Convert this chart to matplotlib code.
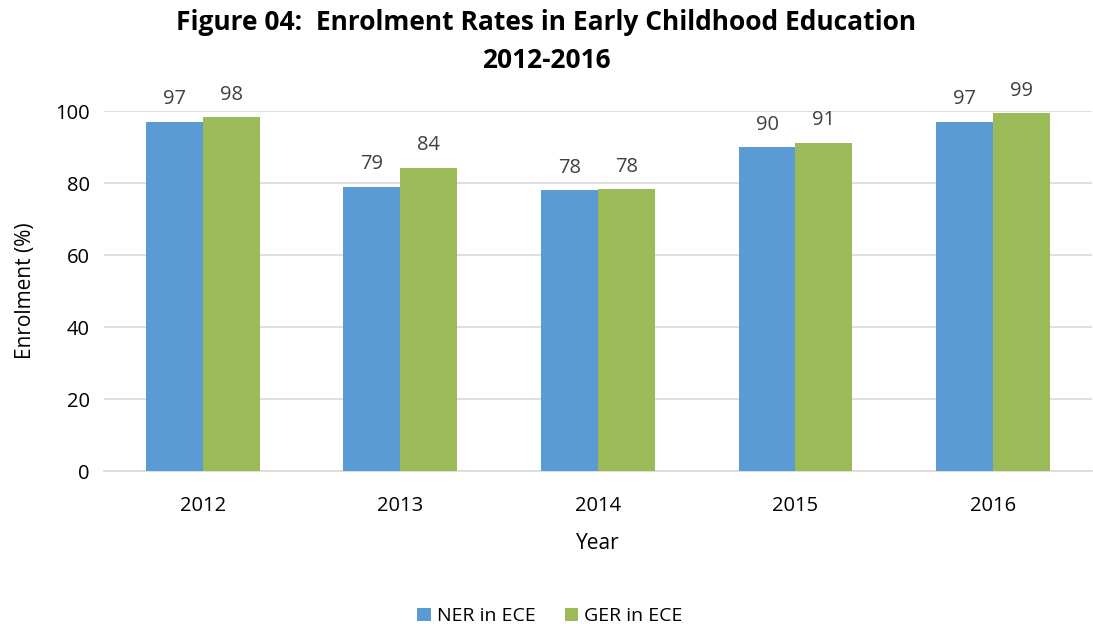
import matplotlib
matplotlib.use("Agg")
import matplotlib.pyplot as plt
import numpy as np

years = ["2012", "2013", "2014", "2015", "2016"]
ner = [97.0, 79.0, 78.0, 90.0, 97.0]
ger = [98.3, 84.2, 78.3, 91.2, 99.4]
series_names = ["NER in ECE", "GER in ECE"]

plt.rcParams["font.family"] = ["Open Sans", "DejaVu Sans"]

fig = plt.figure(figsize=(10.93, 6.24), dpi=100)
ax = fig.add_axes([0.095, 0.245, 0.904, 0.577])

x = np.arange(len(years))
width = 0.288
b1 = ax.bar(x - width / 2, ner, width, color="#5B9BD5", label=series_names[0], zorder=3)
b2 = ax.bar(x + width / 2, ger, width, color="#9BBB59", label=series_names[1], zorder=3)

for bars, vals in [(b1, ner), (b2, ger)]:
    for bar, v in zip(bars, vals):
        ax.annotate(f"{v:.0f}", (bar.get_x() + bar.get_width() / 2, v),
                    xytext=(0, 9), textcoords="offset points",
                    ha="center", va="bottom", fontsize=14.5, color="#404040")

ax.set_xlim(-0.5, len(years) - 0.5)
ax.set_ylim(0, 100)
ax.set_yticks(range(0, 101, 20))
ax.set_xticks(x)
ax.set_xticklabels(years)
ax.tick_params(axis="both", length=0, labelsize=14.5, colors="black")
ax.tick_params(axis="x", pad=18)
ax.tick_params(axis="y", pad=10)
ax.yaxis.grid(True, color="#D9D9D9", linewidth=1.2, zorder=0)
for s in ["top", "right", "left"]:
    ax.spines[s].set_visible(False)
ax.spines["bottom"].set_color("#D9D9D9")
ax.spines["bottom"].set_linewidth(1.2)

ax.set_xlabel("Year", fontsize=15, labelpad=12)
ax.set_ylabel("Enrolment (%)", fontsize=15, labelpad=14)

fig.text(0.5, 0.985, "Figure 04:  Enrolment Rates in Early Childhood Education\n2012-2016",
         ha="center", va="top", fontsize=19, fontweight="bold", linespacing=1.5)

fig.legend(loc="lower center", bbox_to_anchor=(0.503, -0.03), ncol=2, frameon=False,
           fontsize=14, handlelength=0.7, handleheight=0.7, handletextpad=0.3,
           columnspacing=1.5)

fig.savefig("out.png", dpi=100)
